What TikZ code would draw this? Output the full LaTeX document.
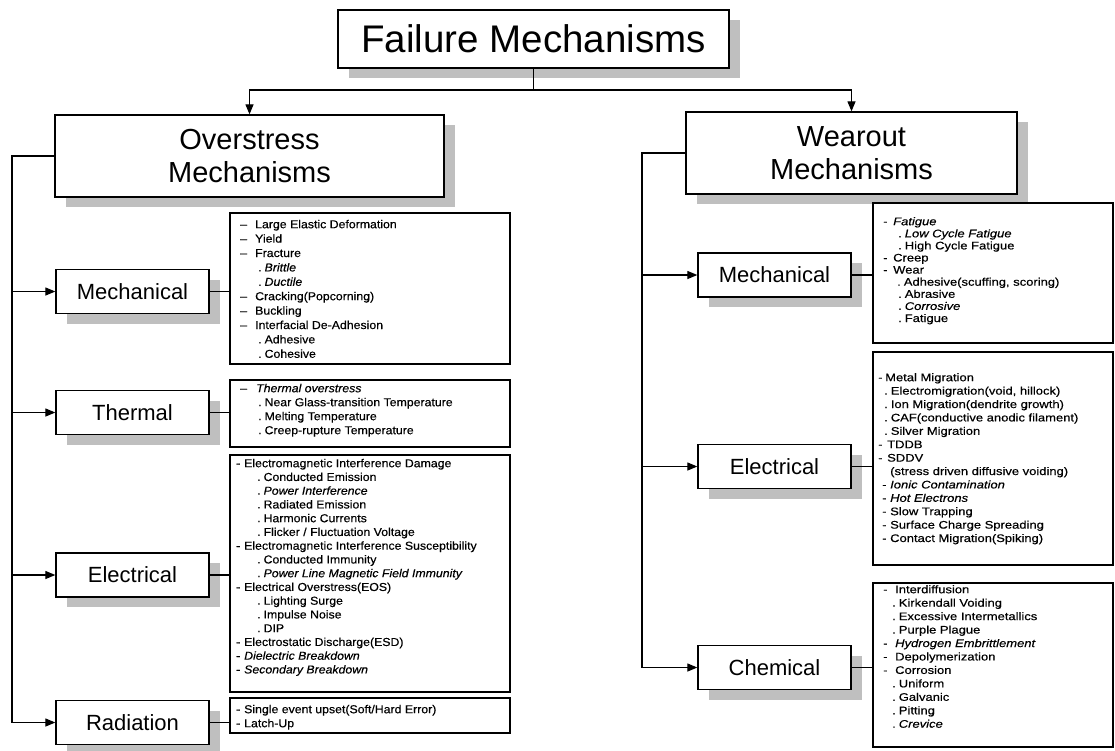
\documentclass[tikz,border=0pt]{standalone}
\usepackage{fontspec}
\setmainfont{Liberation Sans}
\newfontfamily\lfont[FakeStretch=1.07,FakeBold=0.4]{Liberation Sans}
\newfontfamily\rfont[FakeStretch=1.18,FakeBold=0.4]{Liberation Sans}
\usetikzlibrary{arrows.meta,shadows}
\newcommand{\ldash}[2]{\makebox[#1][l]{–}{#2}}
\newcommand{\lhy}[2]{\makebox[#1][l]{-}{#2}}
\newcommand{\ldot}[2]{\hspace*{#1}.\hspace{3pt}{#2}}
\begin{document}
\begin{tikzpicture}[x=1pt,y=-1pt,
  box/.style={draw, line width=1.3pt, fill=white, inner sep=0pt, align=center,
    drop shadow={shadow xshift=11pt, shadow yshift=-10pt, opacity=1, fill=black!25}},
  bigbox/.style={box, minimum width=#1, minimum height=82pt, font=\fontsize{29}{33}\selectfont},
  catbox/.style={box, minimum width=153pt, minimum height=44pt, font=\fontsize{22}{24}\selectfont},
  listbox/.style={draw, line width=1.1pt, inner sep=0pt, fill=white},
  ltxt/.style={anchor=north west, inner sep=0pt, align=left},
  conn/.style={line width=1.2pt},
  arr/.style={conn, -{Triangle[length=10pt,width=8pt]}}]
\useasboundingbox (0,0) rectangle (1115,750);

% main boxes
\node[box, minimum width=391pt, minimum height=58pt, font=\fontsize{38.5}{40}\selectfont] (title) at (533.5,39) {Failure Mechanisms};
\node[bigbox=389pt] (over) at (249.5,156) {Overstress\\Mechanisms};
\node[bigbox=331pt] (wear) at (851.5,153) {Wearout\\Mechanisms};

% left categories
\node[catbox] (lmech) at (132.5,291.5) {Mechanical};
\node[catbox] (ltherm) at (132.5,412.5) {Thermal};
\node[catbox] (lelec) at (132.5,575) {Electrical};
\node[catbox] (lrad) at (132.5,722.5) {Radiation};

% right categories
\node[catbox] (rmech) at (774.5,275) {Mechanical};
\node[catbox] (relec) at (774.5,466.5) {Electrical};
\node[catbox] (rchem) at (774.5,667.5) {Chemical};

% list boxes
\node[listbox, minimum width=280pt, minimum height=151pt] (lmechL) at (370,288.5) {};
\node[listbox, minimum width=280pt, minimum height=67pt] (lthermL) at (370,413.5) {};
\node[listbox, minimum width=280pt, minimum height=237pt] (lelecL) at (370,573.5) {};
\node[listbox, minimum width=280pt, minimum height=35pt] (lradL) at (370,715.5) {};
\node[listbox, minimum width=240pt, minimum height=140pt] (rmechL) at (993,273) {};
\node[listbox, minimum width=240pt, minimum height=213pt] (relecL) at (993,458.5) {};
\node[listbox, minimum width=240pt, minimum height=164pt] (rchemL) at (993,665) {};

% list texts
\node[ltxt, font=\lfont\fontsize{11.5}{14.4}\selectfont] (lmechT) at (240,218) {\rule{0pt}{10pt}\ldash{15pt}{Large Elastic Deformation}\\
\ldash{15pt}{Yield}\\
\ldash{15pt}{Fracture}\\
\ldot{18pt}{\itshape Brittle}\\
\ldot{18pt}{\itshape Ductile}\\
\ldash{15pt}{Cracking(Popcorning)}\\
\ldash{15pt}{Buckling}\\
\ldash{15pt}{Interfacial De-Adhesion}\\
\ldot{18pt}{Adhesive}\\
\ldot{18pt}{Cohesive}};

\node[ltxt, font=\lfont\fontsize{11.5}{14}\selectfont] (lthermT) at (240,382) {\rule{0pt}{10pt}\ldash{16pt}{\itshape Thermal overstress}\\
\ldot{18pt}{Near Glass-transition Temperature}\\
\ldot{18pt}{Melting Temperature}\\
\ldot{18pt}{Creep-rupture Temperature}};

\node[ltxt, font=\lfont\fontsize{11.5}{13.75}\selectfont] (lelecT) at (236,457) {\rule{0pt}{10pt}\lhy{8pt}{Electromagnetic Interference Damage}\\
\ldot{21pt}{Conducted Emission}\\
\ldot{21pt}{\itshape Power Interference}\\
\ldot{21pt}{Radiated Emission}\\
\ldot{21pt}{Harmonic Currents}\\
\ldot{21pt}{Flicker / Fluctuation Voltage}\\
\lhy{8pt}{Electromagnetic Interference Susceptibility}\\
\ldot{21pt}{Conducted Immunity}\\
\ldot{21pt}{\itshape Power Line Magnetic Field Immunity}\\
\lhy{8pt}{Electrical Overstress(EOS)}\\
\ldot{21pt}{Lighting Surge}\\
\ldot{21pt}{Impulse Noise}\\
\ldot{21pt}{DIP}\\
\lhy{8pt}{Electrostatic Discharge(ESD)}\\
\lhy{8pt}{\itshape Dielectric Breakdown}\\
\lhy{8pt}{\itshape Secondary Breakdown}};

\node[ltxt, font=\lfont\fontsize{11.5}{14}\selectfont] (lradT) at (236,703) {\rule{0pt}{10pt}\lhy{8pt}{Single event upset(Soft/Hard Error)}\\
\lhy{8pt}{Latch-Up}};

\node[ltxt, font=\rfont\fontsize{11}{12.1}\selectfont] (rmechT) at (883,215) {\rule{0pt}{10pt}\lhy{10pt}{\itshape Fatigue}\\
\ldot{15pt}{\itshape Low Cycle Fatigue}\\
\ldot{15pt}{High Cycle Fatigue}\\
\lhy{10pt}{Creep}\\
\lhy{10pt}{Wear}\\
\ldot{14pt}{Adhesive(scuffing, scoring)}\\
\ldot{15pt}{Abrasive}\\
\ldot{15pt}{\itshape Corrosive}\\
\ldot{15pt}{Fatigue}};

\node[ltxt, font=\rfont\fontsize{11}{13.4}\selectfont] (relecT) at (878,371) {\rule{0pt}{10pt}\lhy{7pt}{Metal Migration}\\
\ldot{6pt}{Electromigration(void, hillock)}\\
\ldot{6pt}{Ion Migration(dendrite growth)}\\
\ldot{6pt}{CAF(conductive anodic filament)}\\
\ldot{6pt}{Silver Migration}\\
\lhy{9pt}{TDDB}\\
\lhy{9pt}{SDDV}\\
\hspace*{12pt}(stress driven diffusive voiding)\\
\hspace*{4pt}\lhy{8pt}{\itshape Ionic Contamination}\\
\hspace*{4pt}\lhy{8pt}{\itshape Hot Electrons}\\
\hspace*{4pt}\lhy{8pt}{Slow Trapping}\\
\hspace*{4pt}\lhy{8pt}{Surface Charge Spreading}\\
\hspace*{4pt}\lhy{8pt}{Contact Migration(Spiking)}};

\node[ltxt, font=\rfont\fontsize{11}{13.45}\selectfont] (rchemT) at (883,583) {\rule{0pt}{10pt}\lhy{12pt}{Interdiffusion}\\
\ldot{9pt}{Kirkendall Voiding}\\
\ldot{9pt}{Excessive Intermetallics}\\
\ldot{9pt}{Purple Plague}\\
\lhy{12pt}{\itshape Hydrogen Embrittlement}\\
\lhy{12pt}{Depolymerization}\\
\lhy{12pt}{Corrosion}\\
\ldot{9pt}{Uniform}\\
\ldot{9pt}{Galvanic}\\
\ldot{9pt}{Pitting}\\
\ldot{9pt}{\itshape Crevice}};

% connectors top
\coordinate (jy) at (0,90);
\draw[arr] (title.south) |- (jy -| over.north) -- (over.north);
\draw[arr] (title.south) |- (jy -| wear.north) -- (wear.north);

% left trunk
\coordinate (lt) at (12,0);
\draw[arr] (over.west) -| (lt |- lrad.west) -- (lrad.west);
\foreach \n in {lmech,ltherm,lelec}
  \draw[arr] (lt |- \n.west) -- (\n.west);

% right trunk
\coordinate (rt) at (642,0);
\draw[arr] (wear.west) -| (rt |- rchem.west) -- (rchem.west);
\foreach \n in {rmech,relec}
  \draw[arr] (rt |- \n.west) -- (\n.west);

% category to list
\draw[conn] (lmech.east) -- (lmechL.west |- lmech.east);
\draw[conn] (ltherm.east) -- (lthermL.west |- ltherm.east);
\draw[conn] (lelec.east) -- (lelecL.west |- lelec.east);
\draw[conn] (lrad.east) -- (lradL.west |- lrad.east);
\draw[conn] (rmech.east) -- (rmechL.west |- rmech.east);
\draw[conn] (relec.east) -- (relecL.west |- relec.east);
\draw[conn] (rchem.east) -- (rchemL.west |- rchem.east);
\end{tikzpicture}
\end{document}
